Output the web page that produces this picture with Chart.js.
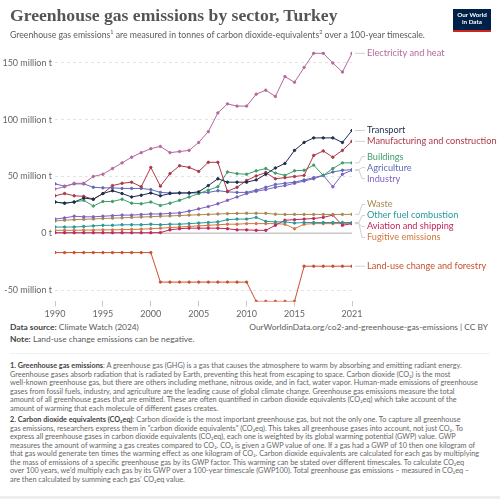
<!DOCTYPE html>
<html>
<head>
<meta charset="utf-8">
<script src="https://cdn.jsdelivr.net/npm/chart.js@4.4.0/dist/chart.umd.min.js"></script>
<style>
  body { margin: 0; background: #fff; font-family: Lato, sans-serif; }
  #wrap { position: relative; width: 500px; height: 499px; overflow: hidden; }
  #title { position: absolute; left: 10px; top: 5px; font-family: 'Liberation Serif', serif; font-weight: bold; font-size: 17.6px; color: #555; white-space: nowrap; }
  #subtitle { position: absolute; left: 10px; top: 29px; font-size: 8.7px; color: #5b5b5b; white-space: nowrap; }
  #logo { position: absolute; left: 453px; top: 9px; width: 38px; height: 19px; background: #002147; border-bottom: 2px solid #ce261e; color: #fff; font-size: 6.3px; font-weight: bold; text-align: center; line-height: 7.2px; padding-top: 2px; box-sizing: content-box; }
  #chart { position: absolute; left: 0; top: 0; }
  .foot { position: absolute; font-size: 8.4px; color: #5b5b5b; white-space: nowrap; }
  .foot b { color: #444; }
  #notes { position: absolute; left: 10px; top: 362px; font-size: 7.3px; line-height: 8.5px; color: #666; white-space: nowrap; }
  #notes b { color: #444; }
  #notes p { margin: 0 0 3px 0; }
  #sep { position: absolute; left: 10px; top: 353px; width: 480px; height: 1px; background: #f0f0f0; }
  #bottom { position: absolute; left: 0; top: 496px; width: 500px; height: 3px; background: #eee; }
</style>
</head>
<body>
<div id="wrap">
  <canvas id="chart" width="500" height="320"></canvas>
  <div id="title">Greenhouse gas emissions by sector, Turkey</div>
  <div id="subtitle">Greenhouse gas emissions<sup style="font-size:5.5px">1</sup> are measured in tonnes of carbon dioxide-equivalents<sup style="font-size:5.5px">2</sup> over a 100-year timescale.</div>
  <div id="logo">Our World<br>in Data</div>
  <div class="foot" style="left:10px; top:322px"><b>Data source:</b> Climate Watch (2024)</div>
  <div class="foot" style="right:12px; top:322px">OurWorldinData.org/co2-and-greenhouse-gas-emissions | CC BY</div>
  <div class="foot" style="left:10px; top:334px"><b>Note:</b> Land-use change emissions can be negative.</div>
  <div id="sep"></div>
  <div id="notes">
    <p><b>1. Greenhouse gas emissions</b>: A greenhouse gas (GHG) is a gas that causes the atmosphere to warm by absorbing and emitting radiant energy.<br>
    Greenhouse gases absorb radiation that is radiated by Earth, preventing this heat from escaping to space. Carbon dioxide (CO₂) is the most<br>
    well-known greenhouse gas, but there are others including methane, nitrous oxide, and in fact, water vapor. Human-made emissions of greenhouse<br>
    gases from fossil fuels, industry, and agriculture are the leading cause of global climate change. Greenhouse gas emissions measure the total<br>
    amount of all greenhouse gases that are emitted. These are often quantified in carbon dioxide equivalents (CO₂eq) which take account of the<br>
    amount of warming that each molecule of different gases creates.</p>
    <p><b>2. Carbon dioxide equivalents (CO₂eq)</b>: Carbon dioxide is the most important greenhouse gas, but not the only one. To capture all greenhouse<br>
    gas emissions, researchers express them in "carbon dioxide equivalents" (CO₂eq). This takes all greenhouse gases into account, not just CO₂. To<br>
    express all greenhouse gases in carbon dioxide equivalents (CO₂eq), each one is weighted by its global warming potential (GWP) value. GWP<br>
    measures the amount of warming a gas creates compared to CO₂. CO₂ is given a GWP value of one. If a gas had a GWP of 10 then one kilogram of<br>
    that gas would generate ten times the warming effect as one kilogram of CO₂. Carbon dioxide equivalents are calculated for each gas by multiplying<br>
    the mass of emissions of a specific greenhouse gas by its GWP factor. This warming can be stated over different timescales. To calculate CO₂eq<br>
    over 100 years, we'd multiply each gas by its GWP over a 100-year timescale (GWP100). Total greenhouse gas emissions – measured in CO₂eq –<br>
    are then calculated by summing each gas' CO₂eq value.</p>
  </div>
  <div id="bottom"></div>
</div>
<script>
// values in million tonnes CO2eq
const years = [1990, 1991, 1992, 1993, 1994, 1995, 1996, 1997, 1998, 1999, 2000, 2001, 2002, 2003, 2004, 2005,
  2006, 2007, 2008, 2009, 2010, 2011, 2012, 2013, 2014, 2015, 2016, 2017, 2018, 2019, 2020, 2021];
const xTicks = [1990, 1995, 2000, 2005, 2010, 2015, 2021];
const yTicks = [-50, 0, 50, 100, 150];

const electricityHeat = [39, 41, 44, 44, 50, 52, 57, 62, 67, 71, 74.5, 76.5, 71, 72, 73, 80,
  89.5, 106, 114, 112, 112, 122.5, 126, 120.5, 138, 133, 146, 158.5, 158.5, 150, 142, 158.5];
const transport = [27.5, 26.5, 27.5, 31, 30, 35, 37.5, 35, 32, 33.5, 35.5, 33, 35, 35.5, 35.5, 36.5,
  42, 48, 45, 45, 45, 47, 52, 57.5, 61.5, 73, 80, 84, 84, 84, 80, 90.5];
const manufacturing = [33, 35, 33, 32.5, 30, 35, 42, 44, 45, 41, 58, 41.5, 52.5, 59.5, 58, 54.5,
  62.5, 62.5, 37, 40.5, 46.5, 50.5, 53.5, 48, 49, 50, 51, 68.5, 72.5, 67, 73, 81];
const buildings = [27.5, 26.5, 27.5, 29, 24, 28, 28, 30, 26.5, 26, 27.5, 24.5, 26.5, 29, 32, 35,
  38, 41, 54, 52.5, 52, 55, 57, 53, 51, 55, 55.5, 60, 51, 57, 62, 62];
const agriculture = [43.5, 41.5, 43.5, 43.5, 40.5, 40, 40, 39.5, 39.5, 39.5, 38.5, 36, 35.5, 35.5, 35.5, 35.5,
  36, 37.5, 36.5, 36, 36, 38, 40.5, 43, 44, 45, 47, 49, 51, 54, 55.5, 56];
const industry = [12.5, 13.5, 15, 14.5, 14.5, 15, 15.5, 16, 16, 16.5, 17, 17, 17.5, 18, 19.5, 21.5,
  23.5, 26, 29, 32, 35, 37, 38.5, 40.5, 42, 44, 46, 48, 51, 41, 52, 55.5];
const waste = [10.8, 11.5, 12, 12.3, 12.6, 13, 13.3, 13.6, 14, 14.3, 14.6, 15, 15.3, 15.6, 16, 16.3,
  16.6, 17, 17.3, 17.5, 17.6, 17.6, 17.6, 16.8, 16.6, 16.6, 16.6, 16.6, 16.6, 16.6, 16.6, 16.7];
const otherFuel = [5.5, 5.5, 5.5, 6, 6.5, 7, 7, 7.5, 7.5, 7.5, 8, 7.5, 8, 8, 8.5, 9,
  9.5, 10, 12, 12.5, 12.5, 14, 10.5, 10, 10, 9, 9.5, 9.5, 9.5, 9.5, 9.5, 9.5];
const aviationShipping = [0.5, 0.5, 0.5, 0.5, 0.5, 0.5, 0.5, 0.5, 0.5, 0.5, 0.5, 0.6, 3, 4, 4.5, 4.5,
  4.5, 4.5, 4, 3, 3, 2.6, 2.6, 7, 11.5, 12, 12.5, 13, 14, 16, 7, 8.5];
const fugitive = [2.6, 2.6, 2.6, 2.8, 2.8, 3, 3, 3.2, 3.4, 3.6, 4, 4.5, 5, 5.5, 6, 6.5,
  7, 7.5, 8, 8, 8.5, 8.5, 8.5, 8.5, 8, 4, 8, 8.5, 8.5, 8.5, 8.5, 8.5];
const landUse = [-17, -17, -17, -17, -17, -17, -17, -17, -17, -17, -17, -43, -43, -43, -43, -43,
  -43, -43, -43, -43, -43, -60, -60, -60, -60, -60, -29, -29, -29, -29, -29, -29];

const series = [
  ['Electricity and heat', electricityHeat, '#b5679f'],
  ['Transport', transport, '#1f2d4d'],
  ['Manufacturing and construction', manufacturing, '#ad3848'],
  ['Buildings', buildings, '#3f9e6b'],
  ['Agriculture', agriculture, '#5f6ab8'],
  ['Industry', industry, '#7f5fc2'],
  ['Waste', waste, '#a88852'],
  ['Other fuel combustion', otherFuel, '#26999c'],
  ['Aviation and shipping', aviationShipping, '#c0265c'],
  ['Fugitive emissions', fugitive, '#d4763e'],
  ['Land-use change and forestry', landUse, '#c9502e']
];

const datasets = series.map(([label, vals, color]) => ({
  label,
  data: vals.map((v, i) => ({ x: years[i], y: v })),
  borderColor: color,
  backgroundColor: color,
  borderWidth: 1,
  pointRadius: 1.2,
  pointHoverRadius: 1.2,
  tension: 0
}));

// zero line plus end labels with simple overlap avoidance
const endLabels = {
  id: 'endLabels',
  beforeDatasetsDraw(chart) {
    const { ctx, chartArea } = chart;
    const y0 = chart.scales.y.getPixelForValue(0);
    ctx.save();
    ctx.strokeStyle = '#c8c8c8';
    ctx.lineWidth = 1.3;
    ctx.beginPath();
    ctx.moveTo(chartArea.left, y0);
    ctx.lineTo(chartArea.right, y0);
    ctx.stroke();
    ctx.restore();
  },
  afterDatasetsDraw(chart) {
    const { ctx } = chart;
    const gap = 11;
    let items = chart.data.datasets.map((ds, i) => {
      const pts = chart.getDatasetMeta(i).data;
      const p = pts[pts.length - 1];
      return { label: ds.label, color: ds.borderColor, px: p.x, py: p.y, target: p.y };
    }).sort((a, b) => a.target - b.target);

    let groups = items.map(it => ({ members: [it], top: it.target }));
    let merged = true;
    while (merged) {
      merged = false;
      for (let i = 0; i < groups.length - 1; i++) {
        const a = groups[i], b = groups[i + 1];
        if (a.top + a.members.length * gap > b.top) {
          const members = a.members.concat(b.members);
          const mean = members.reduce((s, m) => s + m.target, 0) / members.length;
          groups.splice(i, 2, { members, top: mean - (members.length - 1) * gap / 2 });
          merged = true;
          break;
        }
      }
    }
    groups.forEach(g => g.members.forEach((m, k) => { m.ly = g.top + k * gap; }));

    ctx.save();
    ctx.font = '9.2px Lato';
    ctx.textBaseline = 'middle';
    items.forEach(m => {
      const x0 = m.px + 3;
      ctx.strokeStyle = '#d0d0d0';
      ctx.lineWidth = 1;
      ctx.beginPath();
      ctx.moveTo(x0, m.py);
      ctx.lineTo(x0 + 4, m.py);
      ctx.lineTo(x0 + 7, m.ly);
      ctx.lineTo(x0 + 10, m.ly);
      ctx.stroke();
      ctx.fillStyle = m.color;
      ctx.fillText(m.label, x0 + 12, m.ly);
    });
    ctx.restore();
  }
};

new Chart(document.getElementById('chart'), {
  type: 'line',
  data: { datasets },
  options: {
    responsive: false,
    animation: false,
    layout: { padding: { top: 51.6, right: 148, left: 0, bottom: 0 } },
    plugins: { legend: { display: false }, tooltip: { enabled: false } },
    scales: {
      x: {
        type: 'linear',
        min: 1990,
        max: 2021,
        afterBuildTicks: s => { s.ticks = xTicks.map(v => ({ value: v })); },
        afterFit: s => { s.height = 18.6; },
        grid: { drawOnChartArea: false, drawTicks: true, tickLength: 5, color: '#c8c8c8' },
        border: { display: false },
        ticks: { color: '#666', font: { family: 'Lato', size: 9 }, padding: 2, callback: v => String(v) }
      },
      y: {
        min: -60,
        max: 160,
        afterBuildTicks: s => { s.ticks = yTicks.map(v => ({ value: v })); },
        afterFit: s => { s.width = 55; },
        grid: { drawTicks: false, color: ctx => ctx.tick && ctx.tick.value === 0 ? 'rgba(0,0,0,0)' : '#e3e3e3' },
        border: { display: false, dash: [3, 3] },
        ticks: {
          color: '#666',
          font: { family: 'Lato', size: 9 },
          padding: 3,
          callback: v => v === 0 ? '0 t' : v + ' million t'
        }
      }
    }
  },
  plugins: [endLabels]
});
</script>
</body>
</html>
